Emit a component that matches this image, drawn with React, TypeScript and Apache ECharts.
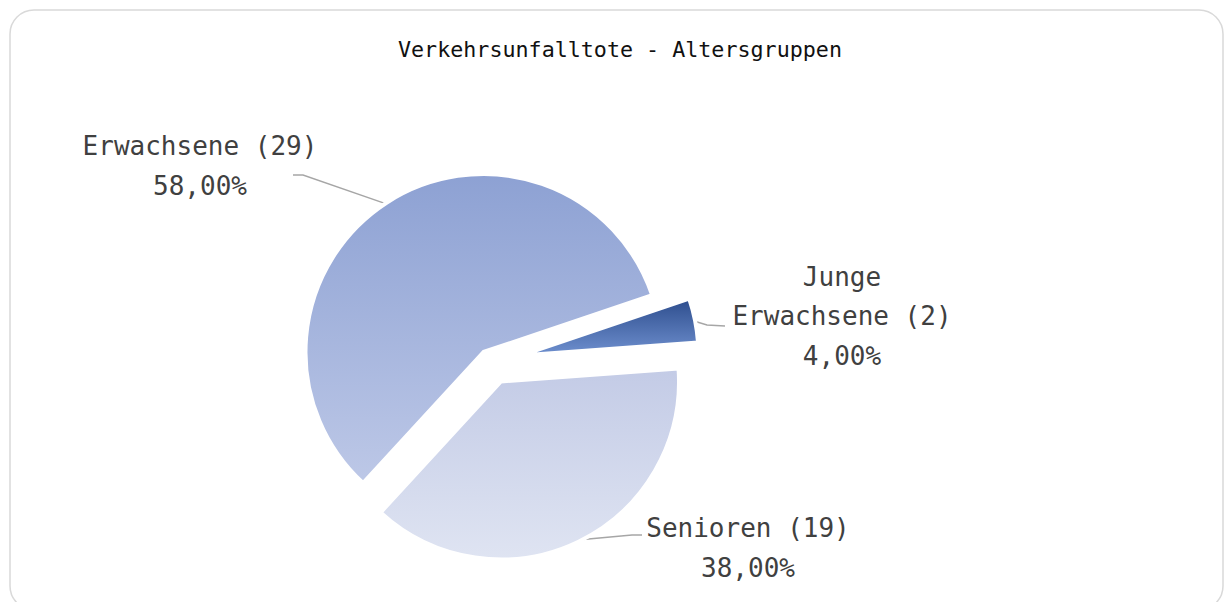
import React, { useEffect, useRef } from "react";
import * as echarts from "echarts";

// Data (clockwise order starting at the upper edge of the small slice)
const categories = ["Junge Erwachsene", "Senioren", "Erwachsene"];
const values = [2, 19, 29];
const titleText = "Verkehrsunfalltote - Altersgruppen";

// Layout / style (not data)
const START_ANGLE = 18.6;
const RADIUS = 178;
const BORDER = 4;
const sliceCenters = [
  [520.5, 355.5],
  [501, 381.5],
  [483.5, 352],
];
const labelPositions = [
  [842, 316],
  [748, 548],
  [200, 166],
];
// label-line bend and end points, as offsets from each label's position
const labelLineBends = [
  [-135, 9],
  [-116, -13],
  [103, 9],
];
const labelLineEnds = [
  [-117, 10],
  [-106, -13],
  [93, 9],
];
const sliceGradients = [
  ["#2D4D8D", "#6F90CF"],
  ["#C3CBE6", "#DFE4F2"],
  ["#8DA1D3", "#BDC8E7"],
];
const FONT = "'DejaVu Sans Mono', 'Liberation Mono', monospace";

function wrapName(name: string): string {
  const idx = name.indexOf(" ");
  return name.length > 12 && idx > 0 ? name.slice(0, idx) + "\n" + name.slice(idx + 1) : name;
}

export default function App() {
  const ref = useRef<HTMLDivElement>(null);

  useEffect(() => {
    if (!ref.current) return;
    const chart = echarts.init(ref.current, null, { renderer: "svg" });

    const series = categories.map((_, s) => ({
      type: "pie",
      radius: RADIUS,
      center: sliceCenters[s],
      startAngle: START_ANGLE,
      clockwise: true,
      silent: true,
      avoidLabelOverlap: false,
      emphasis: { disabled: true },
      labelLayout: (p: any) => {
        const lx = labelPositions[s][0];
        const ly = labelPositions[s][1];
        const out: any = {
          x: lx,
          y: ly,
          align: "center",
          verticalAlign: "middle",
        };
        if (p.labelLinePoints && p.labelLinePoints.length) {
          const a = p.labelLinePoints[0];
          const cx = sliceCenters[s][0];
          const cy = sliceCenters[s][1];
          const dx = a[0] - cx;
          const dy = a[1] - cy;
          const len = Math.sqrt(dx * dx + dy * dy) || 1;
          // pull anchor inward onto the visible edge (the white border hides the outer pixels)
          const k = (len - BORDER / 2) / len;
          out.labelLinePoints = [
            [cx + dx * k, cy + dy * k],
            [lx + labelLineBends[s][0], ly + labelLineBends[s][1]],
            [lx + labelLineEnds[s][0], ly + labelLineEnds[s][1]],
          ];
        }
        return out;
      },
      data: categories.map((name, i) => {
        const visible = i === s;
        return {
          name,
          value: values[i],
          itemStyle: visible
            ? {
                color: new echarts.graphic.LinearGradient(0, 0, 0, 1, [
                  { offset: 0, color: sliceGradients[i][0] },
                  { offset: 1, color: sliceGradients[i][1] },
                ]),
                borderColor: "#FFFFFF",
                borderWidth: BORDER,
                borderJoin: "round",
              }
            : { color: "rgba(0,0,0,0)", borderWidth: 0 },
          label: visible
            ? {
                show: true,
                position: "outside",
                formatter: (p: any) =>
                  `${wrapName(p.name)} (${p.value})\n${Number(p.percent).toFixed(2).replace(".", ",")}%`,
                fontFamily: FONT,
                fontSize: 26,
                lineHeight: 39.5,
                color: "#404040",
                align: "center",
              }
            : { show: false },
          labelLine: visible
            ? {
                show: true,
                length: 10,
                length2: 10,
                smooth: false,
                lineStyle: { color: "#A6A6A6", width: 1.4 },
              }
            : { show: false },
        };
      }),
    }));

    chart.setOption({
      animation: false,
      backgroundColor: "#FFFFFF",
      title: {
        text: titleText,
        left: 398,
        top: 38,
        padding: 0,
        textStyle: {
          fontFamily: FONT,
          fontSize: 21.7,
          lineHeight: 22,
          fontWeight: "normal",
          color: "#111111",
        },
      },
      graphic: [
        {
          type: "rect",
          z: -10,
          silent: true,
          shape: { x: 10, y: 10, width: 1213, height: 600, r: 24 },
          style: { fill: "none", stroke: "#D9D9D9", lineWidth: 1.5 },
        },
      ],
      series,
    });

    return () => chart.dispose();
  }, []);

  return (
    <div
      ref={ref}
      style={{ position: "fixed", left: 0, top: 0, width: 1224, height: 602 }}
    />
  );
}
